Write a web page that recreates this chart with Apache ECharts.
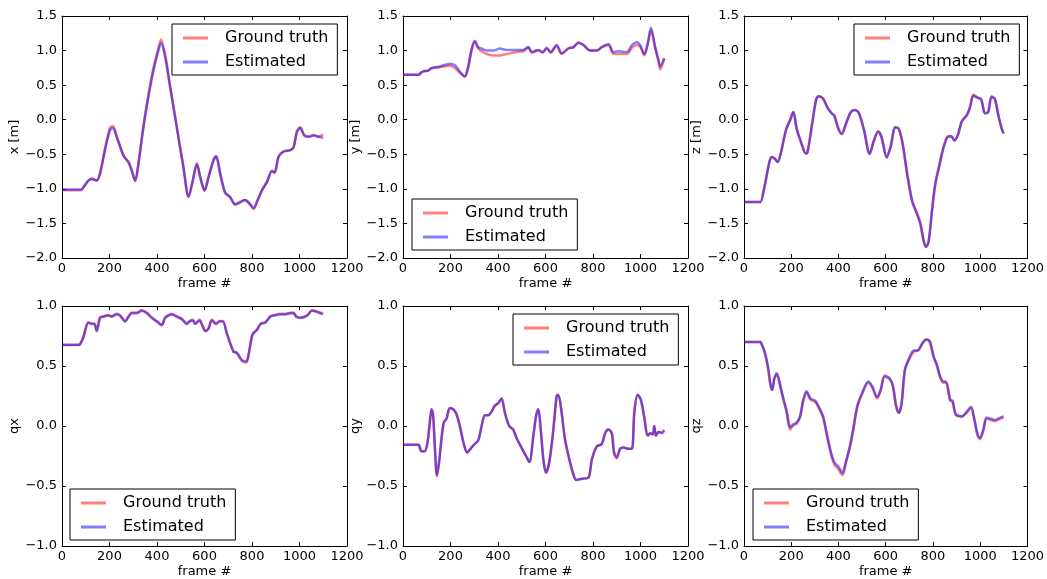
<!DOCTYPE html>
<html>
<head>
<meta charset="utf-8">
<script src="https://cdn.jsdelivr.net/npm/echarts@6/dist/echarts.min.js"></script>
<style>
  html, body { margin: 0; padding: 0; background: #fff; }
  #chart { width: 1047px; height: 579px; }
</style>
</head>
<body>
<div id="chart"></div>
<script>
// Trajectory comparison: ground truth vs estimated pose, per frame.

const xTicks = [0, 200, 400, 600, 800, 1000, 1200];

// x [m]
const xFrames = [0, 60, 80, 95, 111, 125, 146, 160, 181, 202, 214, 230, 259, 280, 294, 308, 322, 343, 364, 385, 406, 417, 434, 455, 476, 497, 511, 533, 551, 568, 582, 600, 617, 638, 649, 666, 687, 708, 729, 750, 771, 792, 807, 823, 842, 863, 884, 895, 912, 933, 961, 975, 989, 1003, 1020, 1038, 1059, 1080, 1100];
const xTruth = [-1.02, -1.02, -1.02, -0.96, -0.88, -0.86, -0.88, -0.78, -0.42, -0.12, -0.09, -0.23, -0.52, -0.62, -0.75, -0.89, -0.62, -0.08, 0.37, 0.75, 1.04, 1.16, 0.95, 0.50, 0.06, -0.39, -0.68, -1.12, -0.87, -0.63, -0.83, -1.03, -0.83, -0.58, -0.53, -0.78, -1.06, -1.12, -1.23, -1.20, -1.16, -1.23, -1.29, -1.17, -1.02, -0.90, -0.74, -0.77, -0.53, -0.46, -0.44, -0.40, -0.17, -0.11, -0.22, -0.24, -0.22, -0.24, -0.21];
const xEst = [-1.01, -1.01, -1.01, -0.95, -0.88, -0.85, -0.88, -0.78, -0.44, -0.15, -0.12, -0.25, -0.52, -0.61, -0.73, -0.88, -0.64, -0.11, 0.33, 0.71, 1.00, 1.11, 0.91, 0.47, 0.04, -0.40, -0.68, -1.11, -0.88, -0.64, -0.83, -1.02, -0.83, -0.59, -0.53, -0.78, -1.05, -1.12, -1.22, -1.19, -1.16, -1.22, -1.28, -1.17, -1.02, -0.90, -0.74, -0.76, -0.54, -0.46, -0.44, -0.40, -0.18, -0.12, -0.23, -0.25, -0.23, -0.25, -0.26];

// y [m]
const yFrames = [0, 65, 70, 84, 106, 120, 155, 197, 218, 239, 260, 274, 288, 302, 317, 331, 352, 380, 408, 436, 478, 506, 528, 542, 570, 588, 605, 622, 647, 668, 696, 718, 739, 760, 788, 816, 837, 865, 886, 907, 943, 964, 985, 999, 1016, 1030, 1044, 1062, 1076, 1083, 1100];
const yTruth = [0.65, 0.65, 0.66, 0.70, 0.71, 0.74, 0.76, 0.78, 0.75, 0.68, 0.62, 0.75, 1.00, 1.13, 1.03, 0.99, 0.95, 0.93, 0.93, 0.95, 0.98, 0.99, 1.04, 0.97, 1.00, 0.97, 1.03, 0.97, 1.07, 0.95, 1.03, 1.05, 1.12, 1.08, 1.00, 1.00, 1.05, 1.08, 0.95, 0.95, 0.95, 1.04, 1.08, 1.05, 0.93, 1.08, 1.29, 1.03, 0.84, 0.73, 0.88];
const yEst = [0.65, 0.65, 0.66, 0.70, 0.71, 0.75, 0.77, 0.81, 0.79, 0.70, 0.63, 0.76, 1.00, 1.14, 1.05, 1.03, 1.00, 1.00, 1.03, 1.01, 1.01, 1.01, 1.05, 0.98, 1.01, 0.98, 1.04, 0.98, 1.08, 0.96, 1.03, 1.05, 1.11, 1.08, 1.00, 1.00, 1.05, 1.09, 0.98, 0.99, 0.98, 1.08, 1.12, 1.08, 0.95, 1.10, 1.33, 1.05, 0.86, 0.77, 0.89];

// z [m]
const zFrames = [0, 65, 70, 87, 108, 119, 129, 143, 157, 178, 195, 209, 223, 241, 262, 269, 291, 305, 316, 335, 354, 372, 382, 400, 414, 431, 452, 470, 487, 508, 532, 550, 568, 582, 604, 620, 641, 655, 672, 691, 712, 733, 747, 761, 771, 782, 796, 810, 824, 845, 863, 877, 891, 905, 922, 943, 957, 971, 985, 1004, 1020, 1034, 1048, 1062, 1077, 1091, 1099];
const zTruth = [-1.19, -1.19, -1.19, -0.96, -0.60, -0.54, -0.56, -0.61, -0.46, -0.14, 0.00, 0.11, -0.13, -0.32, -0.49, -0.47, 0.00, 0.29, 0.34, 0.31, 0.17, 0.09, 0.06, -0.14, -0.21, -0.07, 0.11, 0.14, 0.09, -0.15, -0.50, -0.30, -0.17, -0.25, -0.55, -0.40, -0.11, -0.13, -0.36, -0.80, -1.19, -1.37, -1.52, -1.77, -1.84, -1.76, -1.31, -0.92, -0.70, -0.39, -0.24, -0.24, -0.30, -0.22, -0.02, 0.07, 0.19, 0.36, 0.33, 0.30, 0.10, 0.12, 0.34, 0.30, 0.06, -0.13, -0.20];
const zEst = [-1.19, -1.19, -1.19, -0.97, -0.61, -0.54, -0.56, -0.61, -0.47, -0.15, -0.01, 0.11, -0.13, -0.32, -0.49, -0.47, -0.01, 0.28, 0.34, 0.30, 0.17, 0.09, 0.06, -0.13, -0.20, -0.06, 0.11, 0.14, 0.09, -0.15, -0.49, -0.30, -0.17, -0.25, -0.54, -0.40, -0.11, -0.13, -0.35, -0.78, -1.17, -1.36, -1.50, -1.75, -1.84, -1.75, -1.31, -0.93, -0.71, -0.40, -0.25, -0.24, -0.30, -0.23, -0.03, 0.06, 0.18, 0.35, 0.32, 0.29, 0.09, 0.11, 0.33, 0.30, 0.06, -0.13, -0.20];

// qx
const qxFrames = [0, 70, 76, 90, 111, 125, 136, 146, 160, 174, 195, 209, 230, 244, 266, 280, 294, 315, 336, 357, 378, 399, 420, 434, 448, 462, 483, 504, 526, 537, 551, 561, 579, 592, 603, 617, 631, 649, 663, 677, 694, 722, 736, 757, 776, 785, 802, 821, 837, 856, 877, 894, 916, 940, 964, 975, 986, 1003, 1024, 1038, 1052, 1073, 1099];
const qxTruth = [0.677, 0.677, 0.682, 0.74, 0.865, 0.855, 0.855, 0.80, 0.905, 0.915, 0.925, 0.915, 0.935, 0.925, 0.875, 0.915, 0.945, 0.945, 0.965, 0.945, 0.905, 0.875, 0.845, 0.905, 0.925, 0.935, 0.915, 0.895, 0.855, 0.875, 0.885, 0.855, 0.885, 0.835, 0.795, 0.815, 0.885, 0.855, 0.875, 0.875, 0.775, 0.62, 0.61, 0.545, 0.53, 0.585, 0.765, 0.805, 0.855, 0.865, 0.915, 0.925, 0.935, 0.935, 0.945, 0.945, 0.915, 0.905, 0.915, 0.935, 0.965, 0.955, 0.94];
const qxEst = [0.675, 0.675, 0.68, 0.74, 0.86, 0.85, 0.85, 0.79, 0.90, 0.91, 0.92, 0.91, 0.93, 0.92, 0.87, 0.91, 0.94, 0.94, 0.96, 0.94, 0.90, 0.87, 0.84, 0.90, 0.92, 0.93, 0.91, 0.89, 0.85, 0.87, 0.88, 0.85, 0.88, 0.83, 0.79, 0.81, 0.88, 0.85, 0.87, 0.87, 0.77, 0.62, 0.61, 0.55, 0.54, 0.59, 0.76, 0.80, 0.85, 0.86, 0.91, 0.92, 0.93, 0.93, 0.94, 0.94, 0.91, 0.90, 0.91, 0.93, 0.96, 0.95, 0.93];

// qy
const qyFrames = [0, 65, 77, 91, 103, 113, 120, 127, 134, 143, 152, 162, 172, 183, 197, 211, 225, 239, 256, 270, 288, 302, 317, 331, 345, 359, 373, 387, 401, 415, 429, 447, 464, 478, 499, 518, 532, 549, 560, 570, 580, 591, 602, 616, 633, 647, 654, 668, 682, 703, 717, 729, 753, 781, 795, 816, 837, 851, 865, 879, 889, 900, 914, 929, 950, 964, 974, 988, 1002, 1016, 1030, 1041, 1052, 1058, 1065, 1076, 1090, 1100];
const qyTruth = [-0.157, -0.157, -0.21, -0.21, -0.14, 0.03, 0.14, 0.08, -0.17, -0.42, -0.30, -0.11, 0.03, 0.06, 0.15, 0.14, 0.10, 0.00, -0.15, -0.22, -0.18, -0.15, -0.12, 0.00, 0.09, 0.09, 0.12, 0.17, 0.19, 0.23, 0.11, 0.00, -0.03, -0.10, -0.18, -0.25, -0.30, -0.08, 0.08, 0.14, -0.03, -0.28, -0.39, -0.30, -0.03, 0.25, 0.26, 0.11, -0.11, -0.30, -0.40, -0.45, -0.44, -0.43, -0.28, -0.17, -0.15, -0.06, -0.03, -0.06, -0.23, -0.27, -0.19, -0.18, -0.19, -0.19, 0.12, 0.26, 0.21, 0.07, -0.08, -0.06, -0.07, 0.00, -0.08, -0.05, -0.05, -0.03];
const qyEst = [-0.157, -0.157, -0.21, -0.21, -0.14, 0.03, 0.14, 0.08, -0.17, -0.41, -0.30, -0.11, 0.03, 0.06, 0.15, 0.14, 0.10, 0.00, -0.15, -0.22, -0.18, -0.15, -0.12, 0.00, 0.09, 0.09, 0.12, 0.17, 0.19, 0.23, 0.11, 0.00, -0.03, -0.10, -0.18, -0.25, -0.30, -0.08, 0.08, 0.14, -0.03, -0.28, -0.39, -0.30, -0.03, 0.25, 0.26, 0.11, -0.11, -0.30, -0.40, -0.45, -0.44, -0.43, -0.28, -0.17, -0.15, -0.06, -0.03, -0.06, -0.22, -0.26, -0.19, -0.18, -0.19, -0.19, 0.11, 0.26, 0.22, 0.07, -0.08, -0.06, -0.07, 0.00, -0.08, -0.05, -0.06, -0.04];

// qz
const qzFrames = [0, 70, 73, 87, 101, 111, 119, 129, 139, 150, 164, 181, 195, 206, 223, 237, 251, 265, 281, 302, 319, 335, 349, 368, 382, 400, 417, 431, 448, 462, 480, 501, 526, 543, 564, 578, 596, 616, 630, 644, 655, 667, 681, 698, 719, 737, 754, 772, 786, 803, 817, 831, 845, 855, 873, 883, 897, 922, 943, 961, 975, 989, 999, 1013, 1027, 1045, 1062, 1084, 1099];
const qzTruth = [0.70, 0.70, 0.69, 0.62, 0.49, 0.35, 0.30, 0.40, 0.43, 0.36, 0.24, 0.11, -0.03, 0.00, 0.02, 0.07, 0.21, 0.28, 0.22, 0.20, 0.14, 0.07, -0.06, -0.23, -0.32, -0.36, -0.41, -0.31, -0.18, -0.04, 0.16, 0.27, 0.36, 0.32, 0.23, 0.29, 0.41, 0.39, 0.33, 0.16, 0.11, 0.18, 0.46, 0.55, 0.62, 0.63, 0.68, 0.72, 0.70, 0.57, 0.50, 0.40, 0.36, 0.36, 0.21, 0.20, 0.09, 0.08, 0.11, 0.15, 0.05, -0.08, -0.11, -0.04, 0.06, 0.05, 0.04, 0.06, 0.07];
const qzEst = [0.70, 0.70, 0.69, 0.62, 0.50, 0.36, 0.30, 0.40, 0.44, 0.37, 0.25, 0.12, -0.01, 0.01, 0.03, 0.08, 0.22, 0.29, 0.23, 0.21, 0.15, 0.08, -0.05, -0.22, -0.30, -0.34, -0.39, -0.30, -0.17, -0.03, 0.17, 0.28, 0.37, 0.33, 0.24, 0.30, 0.42, 0.40, 0.34, 0.17, 0.11, 0.19, 0.47, 0.56, 0.63, 0.63, 0.69, 0.72, 0.71, 0.58, 0.51, 0.41, 0.37, 0.37, 0.22, 0.21, 0.10, 0.08, 0.12, 0.16, 0.06, -0.07, -0.10, -0.03, 0.07, 0.06, 0.05, 0.07, 0.08];

const seriesNames = ['Ground truth', 'Estimated'];
const FONT = 'DejaVu Sans';
const RED = 'rgba(255,0,0,0.5)';
const BLUE = 'rgba(0,0,255,0.5)';

const panels = [
  { label: 'x [m]', frames: xFrames, truth: xTruth, est: xEst, min: -2, max: 1.5, left: 62,  top: 16,  legend: { left: 172, top: 24 } },
  { label: 'y [m]', frames: yFrames, truth: yTruth, est: yEst, min: -2, max: 1.5, left: 403, top: 16,  legend: { left: 412, top: 199 } },
  { label: 'z [m]', frames: zFrames, truth: zTruth, est: zEst, min: -2, max: 1.5, left: 744, top: 16,  legend: { left: 854, top: 24 } },
  { label: 'qx',    frames: qxFrames, truth: qxTruth, est: qxEst, min: -1, max: 1, left: 62,  top: 306, legend: { left: 70,  top: 489 } },
  { label: 'qy',    frames: qyFrames, truth: qyTruth, est: qyEst, min: -1, max: 1, left: 403, top: 306, legend: { left: 513, top: 314 } },
  { label: 'qz',    frames: qzFrames, truth: qzTruth, est: qzEst, min: -1, max: 1, left: 744, top: 306, legend: { left: 753, top: 489 } }
];

const zip = (fr, vals) => fr.map((f, i) => [f, vals[i]]);
const fmtY = v => v.toFixed(1).replace('-', '\u2212');
const fmtX = v => String(Math.round(v));

const tickStyle = { show: true, inside: true, length: 4, lineStyle: { color: '#000', width: 1 } };
const lineAxis = { show: true, onZero: false, lineStyle: { color: '#000', width: 1 } };
const labelFont = { fontFamily: FONT, fontSize: 13, color: '#000' };

const grid = [], xAxis = [], yAxis = [], series = [], legend = [];

panels.forEach((p, i) => {
  grid.push({ left: p.left, top: p.top, width: 285, height: 242, containLabel: false });

  const xBase = { gridIndex: i, type: 'value', min: xTicks[0], max: xTicks[xTicks.length - 1], interval: 200,
    splitLine: { show: false }, axisLine: lineAxis, axisTick: tickStyle };
  xAxis.push(Object.assign({}, xBase, {
    position: 'bottom',
    name: 'frame #', nameLocation: 'middle', nameGap: 19,
    nameTextStyle: { fontFamily: FONT, fontSize: 13, color: '#000' },
    axisLabel: Object.assign({ margin: 4, formatter: fmtX, showMinLabel: true, showMaxLabel: true }, labelFont)
  }));
  xAxis.push(Object.assign({}, xBase, { position: 'top', axisLabel: { show: false } }));

  const yBase = { gridIndex: i, type: 'value', min: p.min, max: p.max, interval: 0.5,
    splitLine: { show: false }, axisLine: lineAxis, axisTick: tickStyle };
  yAxis.push(Object.assign({}, yBase, {
    position: 'left',
    name: p.label, nameLocation: 'middle', nameGap: 40,
    nameTextStyle: { fontFamily: FONT, fontSize: 13, color: '#000' },
    axisLabel: Object.assign({ margin: 5, formatter: fmtY, showMinLabel: true, showMaxLabel: true }, labelFont)
  }));
  yAxis.push(Object.assign({}, yBase, { position: 'right', axisLabel: { show: false } }));

  [[seriesNames[0], p.truth, RED], [seriesNames[1], p.est, BLUE]].forEach(([name, vals, color]) => {
    series.push({
      type: 'line', name: name,
      xAxisIndex: 2 * i, yAxisIndex: 2 * i,
      data: zip(p.frames, vals),
      showSymbol: false, symbol: 'none',
      smooth: 0.3,
      lineStyle: { color: color, width: 2.5 },
      itemStyle: { color: color },
      animation: false
    });
  });

  legend.push({
    data: seriesNames,
    left: p.legend.left, top: p.legend.top,
    orient: 'vertical',
    icon: 'rect', itemWidth: 25, itemHeight: 3, itemGap: 8,
    padding: [6, 9, 5, 11],
    borderColor: '#000', borderWidth: 1, borderRadius: 0,
    backgroundColor: '#fff',
    selectedMode: false,
    textStyle: { fontFamily: FONT, fontSize: 16, color: '#000', lineHeight: 16, padding: [0, 0, 0, 12] }
  });
});

const chart = echarts.init(document.getElementById('chart'), null, { renderer: 'canvas' });
chart.setOption({ animation: false, backgroundColor: '#fff', grid, xAxis, yAxis, series, legend });
</script>
</body>
</html>
